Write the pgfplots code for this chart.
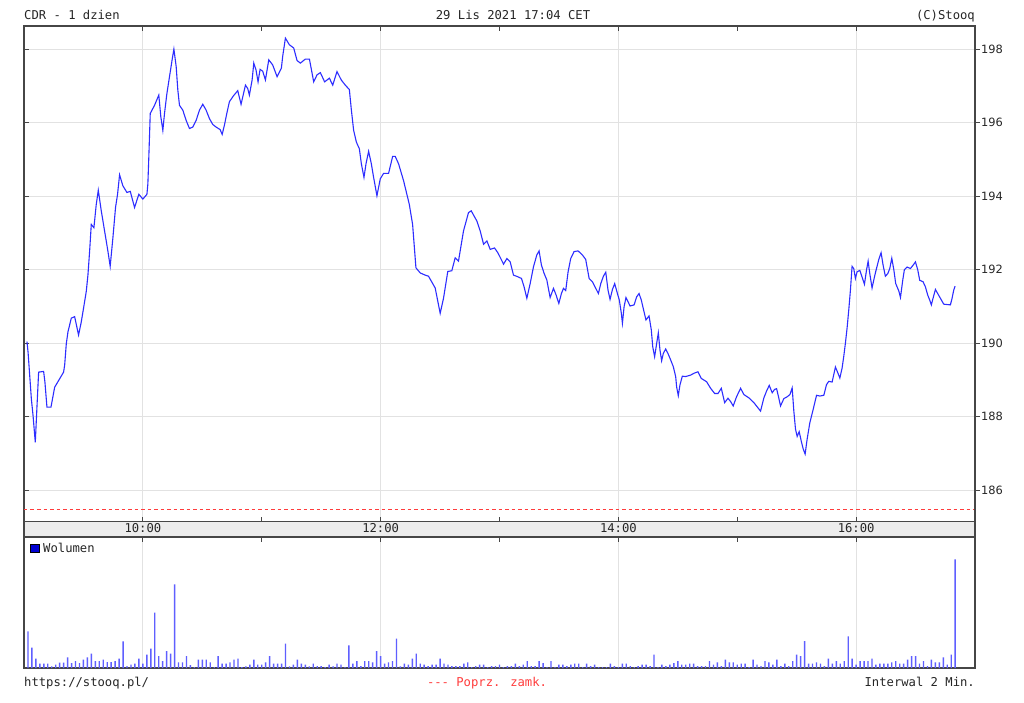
\documentclass[border=0pt]{standalone}
\usepackage{pgfplots}
\pgfplotsset{compat=1.18}
\usepackage{fontspec}
\setmainfont{DejaVu Sans}
\newfontfamily\pix{DejaVu Sans Mono}

\definecolor{linecol}{RGB}{45,45,255}
\definecolor{barcol}{RGB}{95,95,255}
\definecolor{gridcol}{RGB}{226,226,226}
\definecolor{axiscol}{RGB}{70,70,70}
\definecolor{bandcol}{RGB}{236,236,236}
\definecolor{closecol}{HTML}{FF3C3C}

\pgfplotsset{
  panel/.style={
    scale only axis, anchor=north west, width=951pt,
    xmin=9, xmax=17,
    axis line style={axiscol, line width=1.3pt},
    tick style={axiscol, line width=1pt},
    grid style={gridcol, line width=1pt},
    major tick length=5pt,
  },
}

\begin{document}
\begin{tikzpicture}[x=1pt,y=1pt]
\fill[white] (0,0) rectangle (1024,-703);

% header
\node[anchor=base west, inner sep=0, font=\pix\fontsize{12.2}{14}\selectfont, text=black!85] at (24,-20) {CDR - 1 dzien};
\node[anchor=base, inner sep=0, font=\pix\fontsize{12.2}{14}\selectfont, text=black!85] at (513,-20) {29 Lis 2021 17:04 CET};
\node[anchor=base east, inner sep=0, font=\pix\fontsize{12.2}{14}\selectfont, text=black!85] at (975,-20) {(C)Stooq};

% time band
\begin{axis}[panel, at={(24pt,-521.7pt)}, height=15.3pt, ymin=0, ymax=1,
  ticks=none, axis background/.style={fill=bandcol}]
\node[anchor=base, inner sep=0, font=\pix\fontsize{12.2}{14}\selectfont, text=black!85] at (axis cs:10,0.27) {10:00};
\node[anchor=base, inner sep=0, font=\pix\fontsize{12.2}{14}\selectfont, text=black!85] at (axis cs:12,0.27) {12:00};
\node[anchor=base, inner sep=0, font=\pix\fontsize{12.2}{14}\selectfont, text=black!85] at (axis cs:14,0.27) {14:00};
\node[anchor=base, inner sep=0, font=\pix\fontsize{12.2}{14}\selectfont, text=black!85] at (axis cs:16,0.27) {16:00};
\end{axis}

% price panel
\begin{axis}[panel, at={(24pt,-26pt)}, height=495.7pt,
  ymin=185.14, ymax=198.63,
  xtick={10,12,14,16}, extra x ticks={11,13,15},
  extra x tick style={grid=none}, extra x tick labels={},
  xticklabels={}, ytick={186,188,...,198}, yticklabels={}, ytick pos=left,
  tick align=inside, grid=major]
\addplot[linecol, line width=1.1pt] coordinates {
(9.025,190.04) (9.034,189.76) (9.048,189.12) (9.062,188.48) (9.076,188.03) (9.095,187.30) (9.109,188.26) (9.123,189.21) (9.165,189.23) (9.176,188.94) (9.193,188.26) (9.227,188.26) (9.258,188.80) (9.300,189.03) (9.333,189.21) (9.342,189.40) (9.356,189.99) (9.370,190.31) (9.398,190.68) (9.426,190.72) (9.459,190.22) (9.482,190.58) (9.510,191.13) (9.524,191.41) (9.538,191.86) (9.552,192.50) (9.566,193.23) (9.588,193.14) (9.608,193.78) (9.625,194.16) (9.650,193.60) (9.678,193.05) (9.706,192.50) (9.725,192.09) (9.748,192.87) (9.770,193.69) (9.787,194.05) (9.804,194.58) (9.832,194.28) (9.866,194.10) (9.894,194.13) (9.930,193.69) (9.966,194.05) (10.000,193.92) (10.034,194.05) (10.042,194.33) (10.050,195.06) (10.062,196.25) (10.098,196.47) (10.134,196.75) (10.151,196.16) (10.168,195.79) (10.182,196.25) (10.202,196.79) (10.224,197.25) (10.246,197.71) (10.261,198.00) (10.280,197.53) (10.294,196.89) (10.308,196.47) (10.336,196.34) (10.364,196.06) (10.392,195.84) (10.420,195.88) (10.448,196.06) (10.476,196.34) (10.504,196.50) (10.532,196.34) (10.560,196.11) (10.588,195.95) (10.616,195.88) (10.650,195.81) (10.667,195.68) (10.686,195.93) (10.706,196.25) (10.728,196.57) (10.762,196.73) (10.798,196.87) (10.826,196.50) (10.863,197.02) (10.882,196.93) (10.896,196.75) (10.919,197.16) (10.933,197.62) (10.952,197.43) (10.969,197.11) (10.986,197.45) (11.008,197.40)
(11.031,197.16) (11.059,197.71) (11.092,197.57) (11.129,197.25) (11.165,197.48) (11.176,197.80) (11.199,198.30) (11.232,198.12) (11.269,198.03) (11.297,197.69) (11.325,197.62) (11.367,197.73) (11.401,197.73) (11.437,197.11) (11.465,197.30) (11.493,197.36) (11.529,197.11) (11.569,197.21) (11.597,197.02) (11.633,197.39) (11.669,197.16) (11.703,197.02) (11.737,196.90) (11.754,196.34) (11.773,195.79) (11.796,195.47) (11.821,195.29) (11.838,194.88) (11.860,194.51) (11.877,194.88) (11.899,195.22) (11.922,194.88) (11.941,194.51) (11.969,194.01) (11.997,194.47) (12.025,194.62) (12.067,194.62) (12.101,195.08) (12.123,195.08) (12.151,194.88) (12.193,194.42) (12.241,193.78) (12.269,193.23) (12.297,192.05) (12.333,191.91) (12.375,191.85) (12.403,191.82) (12.459,191.50) (12.501,190.81) (12.529,191.22) (12.565,191.95) (12.599,191.97) (12.627,192.32) (12.655,192.23) (12.697,193.05) (12.739,193.55) (12.762,193.60) (12.810,193.32) (12.838,193.05) (12.866,192.69) (12.894,192.78) (12.922,192.55) (12.958,192.59) (12.986,192.46)
(13.011,192.30) (13.034,192.15) (13.062,192.30) (13.090,192.21) (13.118,191.85) (13.151,191.81) (13.185,191.76) (13.207,191.53) (13.230,191.22) (13.258,191.62) (13.286,192.08) (13.314,192.40) (13.333,192.51) (13.353,192.12) (13.375,191.90) (13.398,191.72) (13.409,191.53) (13.426,191.24) (13.454,191.49) (13.476,191.31) (13.499,191.08) (13.521,191.35) (13.538,191.49) (13.557,191.43) (13.577,191.94) (13.599,192.30) (13.627,192.49) (13.661,192.51) (13.697,192.40) (13.725,192.28) (13.754,191.76) (13.782,191.67) (13.810,191.49) (13.832,191.35) (13.852,191.62) (13.874,191.82) (13.894,191.93) (13.913,191.44) (13.930,191.19) (13.950,191.46) (13.969,191.62) (13.992,191.35) (14.008,191.17) (14.025,190.81) (14.034,190.54) (14.048,190.99) (14.064,191.24) (14.081,191.13) (14.098,191.01) (14.132,191.04) (14.154,191.26) (14.174,191.35) (14.193,191.17) (14.216,190.85) (14.232,190.63) (14.258,190.74) (14.277,190.36) (14.289,189.90) (14.305,189.63) (14.322,189.99) (14.336,190.28) (14.350,189.81) (14.364,189.52) (14.378,189.72) (14.398,189.84) (14.417,189.72) (14.440,189.54) (14.462,189.36) (14.482,189.09) (14.490,188.81) (14.504,188.57) (14.518,188.86) (14.538,189.10) (14.566,189.09) (14.608,189.13) (14.636,189.18) (14.669,189.22) (14.697,189.04) (14.742,188.95) (14.776,188.77) (14.810,188.63) (14.838,188.63) (14.866,188.77) (14.894,188.38) (14.922,188.50) (14.944,188.41) (14.966,188.29) (14.994,188.54) (15.028,188.77)
(15.056,188.60) (15.098,188.51) (15.140,188.38) (15.174,188.24) (15.196,188.15) (15.224,188.51) (15.246,188.69) (15.269,188.85) (15.294,188.65) (15.314,188.74) (15.331,188.76) (15.347,188.54) (15.364,188.29) (15.392,188.49) (15.420,188.54) (15.443,188.60) (15.462,188.78) (15.476,188.15) (15.490,187.66) (15.504,187.46) (15.521,187.59) (15.538,187.34) (15.555,187.12) (15.571,186.98) (15.588,187.39) (15.611,187.84) (15.639,188.20) (15.667,188.58) (15.695,188.56) (15.728,188.58) (15.751,188.87) (15.770,188.96) (15.798,188.94) (15.826,189.35) (15.846,189.19) (15.863,189.05) (15.882,189.32) (15.896,189.64) (15.910,190.00) (15.924,190.41) (15.938,190.90) (15.952,191.44) (15.966,192.09) (15.980,192.03) (15.994,191.76) (16.008,191.94) (16.031,191.98) (16.050,191.80) (16.070,191.60) (16.087,191.98) (16.101,192.23) (16.115,191.89) (16.134,191.50) (16.148,191.71) (16.162,191.91) (16.176,192.09) (16.190,192.27) (16.210,192.46) (16.227,192.12) (16.246,191.82) (16.266,191.89) (16.283,192.03) (16.300,192.31) (16.317,192.00) (16.333,191.62) (16.359,191.42) (16.373,191.24) (16.392,191.71) (16.406,192.00) (16.429,192.07) (16.457,192.03) (16.479,192.12) (16.499,192.21) (16.518,192.00) (16.535,191.71) (16.563,191.67) (16.583,191.53) (16.602,191.31) (16.619,191.17) (16.633,191.04) (16.647,191.22) (16.667,191.46) (16.686,191.35) (16.709,191.22) (16.737,191.06) (16.765,191.05) (16.793,191.04) (16.807,191.22) (16.821,191.44) (16.832,191.55)
};
% previous close
\addplot[draw=closecol, mark=none, line width=1.4pt, dash pattern=on 3.5pt off 3pt] coordinates {(9,185.48) (17,185.48)};
\end{axis}

% right-hand price scale
\begin{axis}[panel, at={(24pt,-26pt)}, height=495.7pt,
  ymin=185.14, ymax=198.63,
  axis x line=none, axis y line*=right, tick align=outside,
  ytick={186,188,...,198}, yticklabels={186,188,190,192,194,196,198},
  yticklabel style={font=\fontsize{11.4}{13}\selectfont, text=black!85, inner sep=1pt}]
\end{axis}

% volume panel
\begin{axis}[panel, at={(24pt,-537pt)}, height=131pt, ymin=0, ymax=131,
  xtick={10,12,14,16}, extra x ticks={11,13,15},
  extra x tick style={grid=none}, extra x tick labels={},
  xticklabels={}, xtick pos=right, ytick=\empty, tick align=inside, grid=major]
\addplot[ybar, bar width=1.4pt, fill=barcol, draw=none]
  table[x expr=9+\thisrow{t}/60, y=v, row sep=\\] {
t v\\
2 36.7\\ 4 20.3\\ 6 9.3\\ 8 4.3\\ 10 4.3\\ 12 4.3\\ 14 1.7\\ 16 3.3\\ 18 5.3\\ 20 5.3\\
22 10.7\\ 24 5\\ 26 7\\ 28 5\\ 30 8.3\\ 32 10.7\\ 34 14.3\\ 36 7\\ 38 7\\ 40 8.3\\
42 6\\ 44 6\\ 46 7\\ 48 9.3\\ 50 26.7\\ 52 2\\ 54 3.3\\ 56 4.3\\ 58 9.3\\ 60 4.3\\
62 13.3\\ 64 19.3\\ 66 55.3\\ 68 12\\ 70 7\\ 72 17\\ 74 14.3\\ 76 83.7\\ 78 5.7\\ 80 5.7\\
82 12\\ 84 3\\ 86 1\\ 88 8.3\\ 90 8.3\\ 92 8.3\\ 94 5.7\\ 96 1\\ 98 12\\ 100 4.3\\
102 4.3\\ 104 5.7\\ 106 8.3\\ 108 9.3\\ 110 1\\ 112 1.7\\ 114 3.3\\ 116 8.3\\ 118 3.3\\ 120 3.3\\
122 5.7\\ 124 12\\ 126 4.3\\ 128 4.3\\ 130 4.3\\ 132 24.3\\ 134 1.7\\ 136 3.3\\ 138 8.3\\ 140 4.3\\
142 3.3\\ 144 1.7\\ 146 4.3\\ 148 2\\ 150 2\\ 152 1\\ 154 3.3\\ 156 1.7\\ 158 4.3\\ 160 3.3\\
162 1\\ 164 22.7\\ 166 4.3\\ 168 7\\ 170 2\\ 172 7\\ 174 7\\ 176 5.7\\ 178 17\\ 180 12\\
182 4.3\\ 184 5.7\\ 186 7\\ 188 29.3\\ 190 1.7\\ 192 4.3\\ 194 3.3\\ 196 9.3\\ 198 14.3\\ 200 4.3\\
202 3.3\\ 204 2\\ 206 3.3\\ 208 3.3\\ 210 9.3\\ 212 4.3\\ 214 3.3\\ 216 2\\ 218 2\\ 220 2\\
222 4.3\\ 224 5.7\\ 226 1\\ 228 2\\ 230 3.3\\ 232 3.3\\ 234 1\\ 236 2\\ 238 2\\
240 3.3\\ 242 1\\ 244 2\\ 246 2\\ 248 4.3\\ 250 2\\ 252 3.3\\ 254 7\\ 256 2\\ 258 2\\
260 7\\ 262 5\\ 264 1\\ 266 7\\ 268 1\\ 270 3.3\\ 272 3.3\\ 274 2\\ 276 3.3\\ 278 4.3\\
280 4.3\\ 282 1\\ 284 4.3\\ 286 2\\ 288 3.3\\ 290 1\\ 292 1\\ 294 1\\ 296 4.3\\ 298 2\\
300 1\\ 302 4.3\\ 304 4.3\\ 306 2\\ 308 1\\ 310 2\\ 312 3.3\\ 314 3.3\\ 316 2\\ 318 13.3\\
320 1\\ 322 3.3\\ 324 2\\ 326 3.3\\ 328 5\\ 330 7\\ 332 3.3\\ 334 3.3\\ 336 4.3\\ 338 4.3\\
340 2\\ 342 2\\ 344 2\\ 346 7\\ 348 3.3\\ 350 5.7\\ 352 2\\ 354 8.3\\ 356 5.7\\ 358 5.7\\
360 3.3\\ 362 4.3\\ 364 4.3\\ 366 1\\ 368 8.3\\ 370 3.3\\ 372 2\\ 374 7\\ 376 5.7\\ 378 3.3\\
380 8.3\\ 382 2\\ 384 4.3\\ 386 2\\ 388 7\\ 390 13.3\\ 392 12\\ 394 27\\ 396 4.3\\ 398 4.3\\
400 5.7\\ 402 4.3\\ 404 2\\ 406 9.3\\ 408 4.3\\ 410 7\\ 412 4.3\\ 414 7\\ 416 31.7\\ 418 9.3\\
420 3.3\\ 422 7\\ 424 7\\ 426 7\\ 428 9.3\\ 430 3.3\\ 432 4.3\\ 434 4.3\\ 436 4.3\\ 438 5.7\\
440 7\\ 442 4.3\\ 444 4.3\\ 446 8.3\\ 448 12\\ 450 12\\ 452 4.3\\ 454 7\\ 456 2\\ 458 8.3\\
460 5.7\\ 462 5.7\\ 464 10.7\\ 466 3.3\\ 468 13.3\\ 470 108.7\\
};
\fill[fill={rgb,255:red,0;green,0;blue,210}, draw=black, line width=0.6pt] (axis cs:9.057,123.5) rectangle (axis cs:9.127,116);
\node[anchor=base west, inner sep=0, font=\pix\fontsize{12.2}{14}\selectfont, text=black!85] at (axis cs:9.16,115.5) {Wolumen};
\end{axis}

% footer
\node[anchor=base west, inner sep=0, font=\pix\fontsize{12.2}{14}\selectfont, text=black!85] at (24,-686) {https://stooq.pl/};
\node[anchor=base, inner sep=0, font=\pix\fontsize{12.2}{14}\selectfont, text=closecol] at (487,-686) {--{}- Poprz. zamk.};
\node[anchor=base east, inner sep=0, font=\pix\fontsize{12.2}{14}\selectfont, text=black!85] at (975,-686) {Interwal 2 Min.};
\end{tikzpicture}
\end{document}
